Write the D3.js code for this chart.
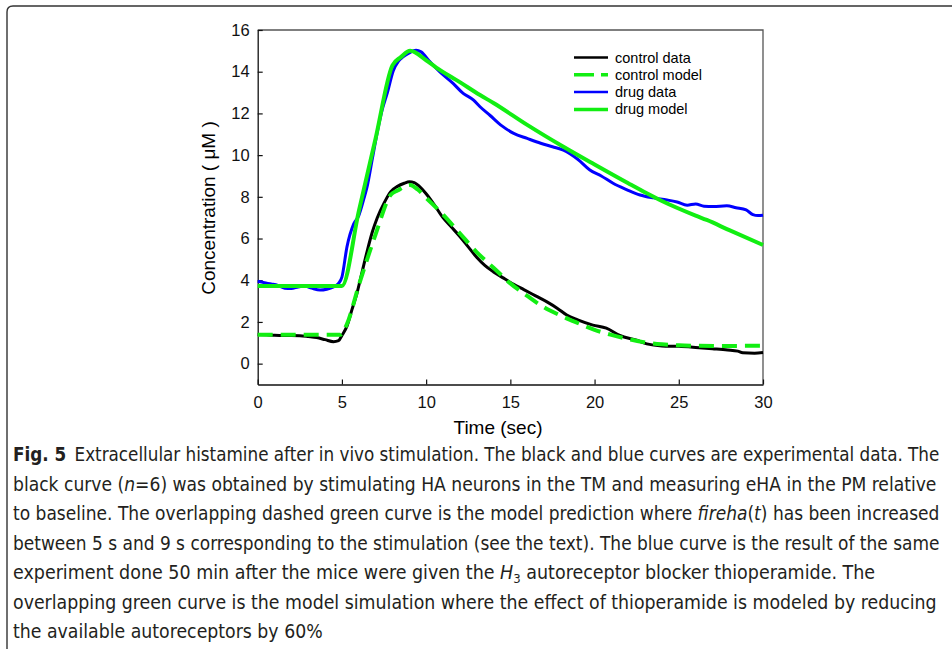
<!DOCTYPE html>
<html>
<head>
<meta charset="utf-8">
<script src="https://cdn.jsdelivr.net/npm/d3@7"></script>
<style>
  body { margin: 0; background: #fff; }
  svg { display: block; }
</style>
</head>
<body>
<svg id="chart" width="952" height="649"></svg>
<script>
// values, [time (sec), concentration (uM)]
var controlData = [[0,1.4],[0.5,1.38],[1,1.36],[1.5,1.35],[2,1.35],[2.5,1.34],[3,1.3],[3.5,1.25],[4,1.15],[4.5,1.05],[4.8,1.1],
  [5,1.35],[5.3,1.8],[5.6,2.6],[5.9,3.4],[6.2,4.4],[6.5,5.4],[6.8,6.3],[7.1,7.0],[7.5,7.7],[7.9,8.25],[8.3,8.5],[8.7,8.65],
  [9,8.72],[9.3,8.68],[9.6,8.5],[10,8.15],[10.5,7.6],[11,7.0],[11.5,6.55],[12,6.1],[12.5,5.6],[13,5.1],[13.5,4.7],[14,4.4],
  [14.6,4.1],[15.2,3.8],[15.8,3.55],[16.5,3.25],[17.2,2.95],[17.8,2.65],[18.35,2.33],[19,2.1],[19.9,1.85],[20.7,1.7],
  [21.5,1.35],[22.5,1.12],[23.1,0.95],[24,0.85],[25,0.83],[26,0.78],[27,0.72],[27.9,0.66],[28.5,0.6],[28.8,0.52],[29.5,0.5],[30,0.53]]

var controlModel = [[0,1.38],[4.9,1.38],[5.3,1.9],[6,3.75],[7,6.2],[7.9,8.1],[8.3,8.3],[9.05,8.57],[9.5,8.35],[10,7.95],
  [11,7.15],[12,6.25],[13,5.35],[14,4.6],[15,3.85],[16,3.25],[17,2.7],[18,2.3],[19,1.95],[20,1.62],[21,1.38],[22,1.18],
  [23,1.02],[24,0.93],[25,0.88],[26,0.86],[28,0.85],[30,0.86]]

var drugData = [[0,3.95],[0.4,3.88],[0.8,3.82],[1.2,3.75],[1.6,3.62],[2,3.6],[2.4,3.68],[2.8,3.72],[3.2,3.62],[3.7,3.53],
  [4.1,3.57],[4.5,3.68],[4.8,3.85],[5,4.15],[5.3,5.6],[5.7,6.7],[6,7.1],[6.3,7.9],[6.5,8.5],[6.8,9.8],[7.1,11.1],[7.4,12.2],
  [7.7,13.0],[8.05,14.05],[8.35,14.5],[8.65,14.72],[9,14.9],[9.4,15.03],[9.7,14.95],[10.2,14.5],[10.8,14.0],[11.6,13.44],
  [12.2,12.96],[12.8,12.65],[13.2,12.32],[13.8,11.9],[14.5,11.4],[15.2,11.04],[16,10.8],[16.8,10.57],[17.5,10.4],[18.15,10.24],
  [19,9.8],[19.7,9.3],[20.4,9.0],[21.1,8.65],[21.9,8.35],[22.7,8.09],[23.5,7.95],[24.3,7.85],[24.9,7.75],[25.5,7.6],[26,7.66],
  [26.5,7.55],[27.05,7.53],[27.85,7.57],[28.4,7.48],[29,7.37],[29.4,7.15],[29.7,7.1],[30,7.12]]

var drugModel = [[0,3.72],[5,3.72],[6,7.3],[7,10.8],[8,14.3],[8.5,14.7],[9.05,15.0],[10,14.55],[10.6,14.2],[12,13.5],
  [13.2,12.88],[14,12.5],[16,11.45],[18.15,10.4],[20,9.55],[22,8.65],[23.1,8.17],[24,7.8],[26,7.1],[26.66,6.89],[28,6.4],[30,5.69]]

var xTicks = [0, 5, 10, 15, 20, 25, 30]
var yTicks = [0, 2, 4, 6, 8, 10, 12, 14, 16]
var legendLabels = ['control data', 'control model', 'drug data', 'drug model']

var captionLines = [
  [['Fig. 5', 'b'], ['\u2002Extracellular histamine after in vivo stimulation. The black and blue curves are experimental data. The', '']],
  [['black curve (', ''], ['n', 'i'], ['=6) was obtained by stimulating HA neurons in the TM and measuring eHA in the PM relative', '']],
  [['to baseline. The overlapping dashed green curve is the model prediction where ', ''], ['fireha', 'i'], ['(', ''], ['t', 'i'], [') has been increased', '']],
  [['between 5 s and 9 s corresponding to the stimulation (see the text). The blue curve is the result of the same', '']],
  [['experiment done 50 min after the mice were given the ', ''], ['H', 'i'], ['3', 'sub'], [' autoreceptor blocker thioperamide. The', '']],
  [['overlapping green curve is the model simulation where the effect of thioperamide is modeled by reducing', '']],
  [['the available autoreceptors by 60%', '']]
]
var captionRight = [940, 937, 940, 940, 876, 937, 323]

var GREEN = '#12ee12'
var BLUE = '#0000ff'

var svg = d3.select('#chart')

// figure frame, rounded top-left corner
svg.append('path')
  .attr('d', 'M7,649 L7,12 Q7,6 13,6 L952,6')
  .style('fill', 'none')
  .style('stroke', '#333')
  .style('stroke-width', 1.4)

var x = d3.scaleLinear().domain([0, 30]).range([257.7, 763])
var y = d3.scaleLinear().domain([-1, 16]).range([384.5, 30])

// top and right frame of the plot
svg.append('path')
  .attr('d', 'M' + x(0) + ',' + y(16) + 'H' + x(30) + 'V' + y(-1))
  .style('fill', 'none')
  .style('stroke', '#555')
  .style('stroke-width', 1.3)

var xAxis = svg.append('g')
  .attr('transform', 'translate(0,' + y(-1) + ')')
  .call(d3.axisBottom(x).tickValues(xTicks).tickSizeInner(-5).tickSizeOuter(0).tickPadding(12))

var yAxis = svg.append('g')
  .attr('transform', 'translate(' + x(0) + ',0)')
  .call(d3.axisLeft(y).tickValues(yTicks).tickSizeInner(-5).tickSizeOuter(0).tickPadding(8))

;[xAxis, yAxis].forEach(function (g) {
  g.attr('font-family', 'Liberation Sans, Arial, sans-serif').attr('font-size', 16.5)
  g.select('.domain').style('stroke', '#111').style('stroke-width', 1.3)
  g.selectAll('.tick line').style('stroke', '#111').style('stroke-width', 1.2)
  g.selectAll('.tick text').style('fill', '#111')
})

svg.append('text')
  .attr('x', 498)
  .attr('y', 434)
  .attr('text-anchor', 'middle')
  .style('font-family', 'Liberation Sans, Arial, sans-serif')
  .style('font-size', '19px')
  .text('Time (sec)')

svg.append('text')
  .attr('transform', 'translate(215,208) rotate(-90)')
  .attr('text-anchor', 'middle')
  .style('font-family', 'Liberation Sans, Arial, sans-serif')
  .style('font-size', '19px')
  .text('Concentration ( \u03bcM )')

var line = d3.line()
  .x(function (d) { return x(d[0]) })
  .y(function (d) { return y(d[1]) })
  .curve(d3.curveMonotoneX)

var series = [
  { data: controlData, color: '#000', width: 3, dash: null },
  { data: drugData, color: BLUE, width: 3, dash: null },
  { data: controlModel, color: GREEN, width: 4, dash: '15,8' },
  { data: drugModel, color: GREEN, width: 4, dash: null }
]

series.forEach(function (s) {
  svg.append('path')
    .datum(s.data)
    .attr('d', line)
    .style('fill', 'none')
    .style('stroke', s.color)
    .style('stroke-width', s.width)
    .style('stroke-linejoin', 'round')
    .style('stroke-dasharray', s.dash)
})

// legend
var legendStyles = [series[0], series[2], series[1], series[3]]
var legend = svg.append('g')
legendLabels.forEach(function (label, i) {
  var ly = 57.5 + i * 17.3
  var s = legendStyles[i]
  legend.append('line')
    .attr('x1', 574).attr('x2', 608)
    .attr('y1', ly).attr('y2', ly)
    .style('stroke', s.color)
    .style('stroke-width', s.width - 0.5)
    .style('stroke-dasharray', s.dash ? '20,7' : null)
  legend.append('text')
    .attr('x', 615)
    .attr('y', ly)
    .attr('dy', '0.35em')
    .style('font-family', 'Liberation Sans, Arial, sans-serif')
    .style('font-size', '14.5px')
    .text(label)
})

// caption, each line squeezed to the measured width of the original
var caption = svg.append('g')
  .style('font-family', "'Liberation Sans Narrow', 'DejaVu Sans Condensed', 'Open Sans', sans-serif")
  .style('font-size', '19.5px')
  .style('fill', '#231f20')

captionLines.forEach(function (parts, i) {
  var g = caption.append('g')
  var t = g.append('text').attr('x', 0).attr('y', 0)
  parts.forEach(function (p) {
    var ts = t.append('tspan').text(p[0])
    if (p[1] === 'b') ts.style('font-weight', 'bold')
    if (p[1] === 'i') ts.style('font-style', 'italic')
    if (p[1] === 'sub') ts.attr('dy', 4).style('font-size', '13px')
    else if (t.attr('data-sub')) ts.attr('dy', -4)
    t.attr('data-sub', p[1] === 'sub' ? '1' : null)
  })
  var w = t.node().getComputedTextLength()
  var k = (captionRight[i] - 13) / w
  g.attr('transform', 'translate(13,' + (461 + i * 29.5) + ') scale(' + k + ',1)')
})
</script>
</body>
</html>
